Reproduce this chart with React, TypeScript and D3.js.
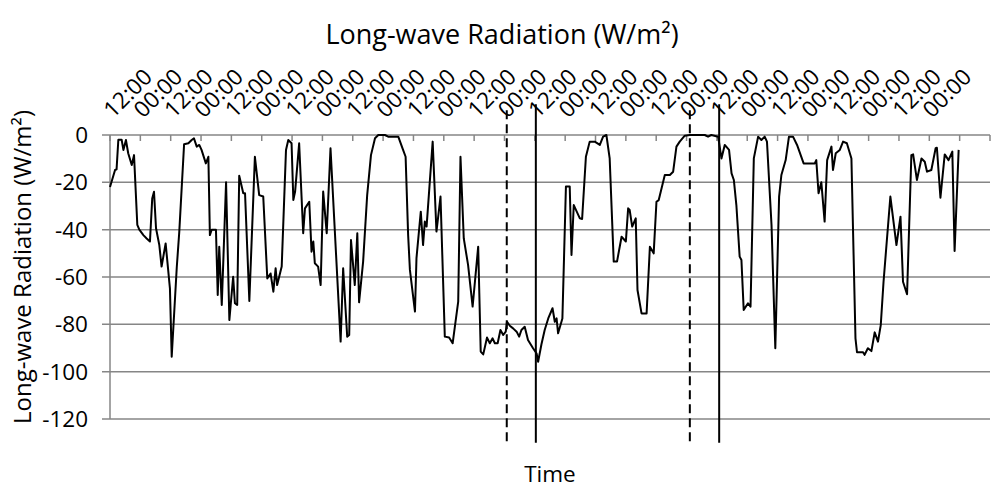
import { useEffect, useRef } from "react";
import * as d3 from "d3";

// hours since the first sample (12:00 on day 1)
const hours = [
  0, 2.0, 2.6, 3.3, 4.6, 5.3, 6.3, 7.2, 8.6, 9.5,
  10.8, 11.6, 13.2, 14.5, 15.8, 16.7, 17.4, 18.2, 19.5, 20.4,
  22.0, 23.7, 24.4, 26.4, 27.4, 29.3, 31.0, 32.3, 33.2, 34.3,
  35.3, 36.2, 37.9, 38.9, 39.5, 40.2, 41.9, 42.6, 43.2, 44.2,
  45.9, 47.2, 48.7, 49.4, 50.3, 51.1, 52.7, 53.4, 55.1, 57.3,
  59.0, 60.6, 62.2, 63.5, 64.6, 65.5, 66.1, 67.9, 69.6, 70.5,
  71.8, 72.5, 73.2, 74.8, 76.4, 77.1, 78.8, 79.7, 80.4, 81.0,
  82.3, 83.3, 84.3, 85.7, 87.2, 91.2, 92.2, 93.8, 94.6, 95.3,
  96.8, 97.8, 98.5, 100.1, 101.7, 103.2, 104.8, 106.1, 108.7, 110.0,
  114.0, 115.9, 116.9, 117.9, 118.6, 120.6, 121.2, 122.9, 123.8, 124.5,
  125.2, 127.6, 129.1, 130.7, 132.4, 134.1, 135.5, 137.7, 138.6, 139.9,
  141.6, 143.4, 145.6, 146.6, 147.6, 149.1, 150.2, 151.3, 152.2, 153.3,
  154.4, 155.5, 156.5, 157.0, 158.1, 159.4, 160.8, 161.8, 162.7, 164.0,
  165.3, 167.3, 168.7, 169.3, 170.6, 171.9, 173.3, 175.0, 175.9, 176.6,
  177.2, 178.9, 180.3, 181.8, 182.5, 183.4, 185.8, 186.7, 188.2, 189.7,
  191.7, 193.7, 195.0, 196.3, 197.6, 199.2, 200.5, 202.3, 204.0, 204.9,
  205.5, 206.5, 207.9, 208.6, 210.2, 212.2, 213.5, 215.0, 216.1, 217.0,
  219.4, 221.4, 222.7, 224.0, 225.3, 227.3, 229.3, 235.2, 236.5, 237.8,
  240.5, 241.8, 243.1, 244.8, 245.8, 246.7, 247.7, 249.0, 249.7, 250.6,
  252.3, 253.3, 254.6, 256.3, 257.6, 258.9, 259.8, 261.6, 263.1, 264.6,
  265.5, 267.2, 268.5, 270.1, 271.7, 274.3, 278.7, 279.3, 280.2, 281.3,
  282.6, 283.6, 285.3, 285.9, 287.0, 288.6, 289.9, 291.4, 293.2, 294.8,
  295.4, 297.8, 298.4, 299.7, 301.1, 302.4, 303.7, 304.8, 305.9, 308.6,
  311.0, 312.6, 313.6, 315.2, 316.9, 317.6, 319.1, 320.9, 322.2, 323.1,
  324.8, 326.5, 327.0, 328.4, 330.1, 331.6, 333.1, 334.0, 335.6,
];

// long-wave radiation, W/m²
const radiation = [
  -22, -14.8, -14.5, -2, -2, -6.3, -2.1, -7.7, -12.7, -8.5,
  -38, -40, -42.3, -43.7, -45, -26.8, -24, -39.4, -46.5, -55.6,
  -45.8, -64.8, -93.7, -56, -40.8, -3.9, -3.5, -2.1, -1.4, -4.9,
  -4.2, -6.3, -12, -9.2, -42.3, -40, -40, -67.6, -47.2, -71.8,
  -20, -78.2, -59.9, -71.1, -71.8, -17.2, -24.6, -24.6, -70.1, -9.2,
  -25.4, -26, -60.6, -58.5, -66.2, -56.3, -63.4, -55.6, -6.3, -2.1,
  -3.5, -27.5, -23.9, -3.5, -41.5, -31, -28.2, -49.3, -45, -54.2,
  -55.6, -63.4, -23.9, -41.5, -5.6, -87.3, -56.3, -85.2, -84.5, -44.4,
  -63.4, -41.5, -70.7, -53.5, -25.4, -8.5, -1.4, 0, 0, -0.7,
  -0.7, -6.3, -9.2, -42.3, -57, -74.6, -52, -32.4, -46.5, -36.6,
  -38.7, -2.8, -40.8, -26, -85.2, -85.6, -88, -70.4, -9.2, -43.7,
  -54.9, -72.5, -47.2, -91.5, -92.7, -85.6, -88, -85.9, -88, -88,
  -82.4, -84.5, -83.1, -78.9, -80.6, -81.7, -83.1, -85.2, -82.4, -81,
  -86.6, -90.1, -92.3, -95.8, -88.5, -82.4, -77.5, -73.2, -78.9, -77.5,
  -83.8, -77.5, -21.8, -21.8, -50.7, -29.6, -35.2, -35.5, -9.2, -2.8,
  -2.8, -4.2, -0.7, 0, -9.9, -53.5, -53.5, -43, -45, -31,
  -31.7, -38.7, -35.2, -65.5, -75.4, -75.4, -47.2, -50, -28.2, -27.5,
  -16.9, -16.9, -15.5, -4.9, -2.8, -0.3, 0, 0, -0.7, 0,
  -0.7, -9.9, -4.2, -6.3, -16.2, -19, -29.6, -51.4, -52.8, -73.9,
  -71.1, -72.5, -9.9, -0.7, -2.1, -0.7, -2.8, -38, -90.1, -26,
  -16.9, -10.6, -0.7, -0.7, -4.2, -12, -12, -10.6, -24.6, -20,
  -36.6, -10.6, -4.9, -14.8, -7.7, -6.3, -2.8, -3.5, -9.9, -85.9,
  -91.8, -91.8, -92.9, -90.1, -91.3, -83.4, -87.3, -80.3, -62, -26,
  -46.5, -34.5, -62, -67.3, -8.5, -8.2, -19, -9.9, -11.3, -15.5,
  -14.8, -5.6, -5.4, -26.5, -8.2, -10.6, -7, -49, -6.3,
];

const tickLabels = [
  "12:00", "00:00", "12:00", "00:00", "12:00", "00:00", "12:00",
  "00:00", "12:00", "00:00", "12:00", "00:00", "12:00", "00:00",
  "12:00", "00:00", "12:00", "00:00", "12:00", "00:00", "12:00",
  "00:00", "12:00", "00:00", "12:00", "00:00", "12:00", "00:00",
];
const yTicks = [0, -20, -40, -60, -80, -100, -120];

// vertical event markers (hour, dashed?)
const eventHours = [156.9, 168.4, 229.3, 240.9];
const eventDashed = [true, false, true, false];
const eventTop = [10.5, 13, 10.5, 13];
const eventBottom = -130;

const FONT = "'Open Sans', Lato, sans-serif";

export default function App() {
  const svgRef = useRef<SVGSVGElement | null>(null);
  const width = 993;
  const height = 491;

  useEffect(() => {
    if (!svgRef.current) return;
    const svg = d3.select(svgRef.current);
    svg.selectAll("*").remove();

    const left = 110;
    const right = 990;
    const top = 135;
    const bottom = 419;

    const x = d3.scaleLinear().domain([0, 348]).range([left, right]);
    const y = d3.scaleLinear().domain([-120, 0]).range([bottom, top]);
    const grid = "#868686";

    // gridlines + left ticks
    svg
      .append("g")
      .selectAll("line")
      .data(yTicks)
      .enter()
      .append("line")
      .attr("x1", left - 8)
      .attr("x2", right)
      .attr("y1", (d: number) => y(d))
      .attr("y2", (d: number) => y(d))
      .attr("stroke", grid)
      .attr("stroke-width", 1.5);

    // left axis line
    svg
      .append("line")
      .attr("x1", left)
      .attr("x2", left)
      .attr("y1", top)
      .attr("y2", bottom)
      .attr("stroke", grid)
      .attr("stroke-width", 1.5);

    // y tick labels
    svg
      .append("g")
      .selectAll("text")
      .data(yTicks)
      .enter()
      .append("text")
      .attr("x", 88)
      .attr("y", (d: number) => y(d))
      .attr("dy", "0.36em")
      .attr("text-anchor", "end")
      .attr("font-family", FONT)
      .attr("font-size", 22.5)
      .attr("fill", "#000")
      .text((d: number) => String(d));

    // top time axis ticks (every 12 h)
    const tickHours = d3.range(0, 349, 12);
    svg
      .append("g")
      .selectAll("line")
      .data(tickHours)
      .enter()
      .append("line")
      .attr("x1", (d: number) => x(d))
      .attr("x2", (d: number) => x(d))
      .attr("y1", top)
      .attr("y2", top + 6)
      .attr("stroke", grid)
      .attr("stroke-width", 1.5);

    svg
      .append("g")
      .selectAll("text")
      .data(tickLabels)
      .enter()
      .append("text")
      .attr(
        "transform",
        (_d: string, i: number) => `translate(${x(i * 12) + 3},119) rotate(-45)`
      )
      .attr("font-family", FONT)
      .attr("font-size", 22.5)
      .attr("fill", "#000")
      .text((d: string) => d);

    // event markers
    eventHours.forEach((h, i) => {
      svg
        .append("line")
        .attr("x1", x(h))
        .attr("x2", x(h))
        .attr("y1", y(eventTop[i]))
        .attr("y2", y(eventBottom))
        .attr("stroke", "#000")
        .attr("stroke-width", 2)
        .attr("stroke-dasharray", eventDashed[i] ? "9,5" : null);
    });

    // radiation series
    const pts = hours.map((h, i) => [h, radiation[i]] as [number, number]);
    const line = d3
      .line<[number, number]>()
      .x((d) => x(d[0]))
      .y((d) => y(d[1]));
    svg
      .append("path")
      .datum(pts)
      .attr("d", line)
      .attr("fill", "none")
      .attr("stroke", "#000")
      .attr("stroke-width", 2)
      .attr("stroke-linejoin", "round");

    // titles
    svg
      .append("text")
      .attr("x", 502)
      .attr("y", 44)
      .attr("text-anchor", "middle")
      .attr("font-family", FONT)
      .attr("font-size", 27)
      .attr("fill", "#000")
      .text("Long-wave Radiation (W/m²)");

    svg
      .append("text")
      .attr("transform", `translate(31,267) rotate(-90)`)
      .attr("text-anchor", "middle")
      .attr("font-family", FONT)
      .attr("font-size", 24)
      .attr("fill", "#000")
      .text("Long-wave Radiation (W/m²)");

    svg
      .append("text")
      .attr("x", (left + right) / 2)
      .attr("y", 482)
      .attr("text-anchor", "middle")
      .attr("font-family", FONT)
      .attr("font-size", 22.5)
      .attr("fill", "#000")
      .text("Time");
  }, []);

  return (
    <svg
      ref={svgRef}
      width={width}
      height={height}
      style={{ position: "absolute", left: 0, top: 0, background: "#fff" }}
    />
  );
}
